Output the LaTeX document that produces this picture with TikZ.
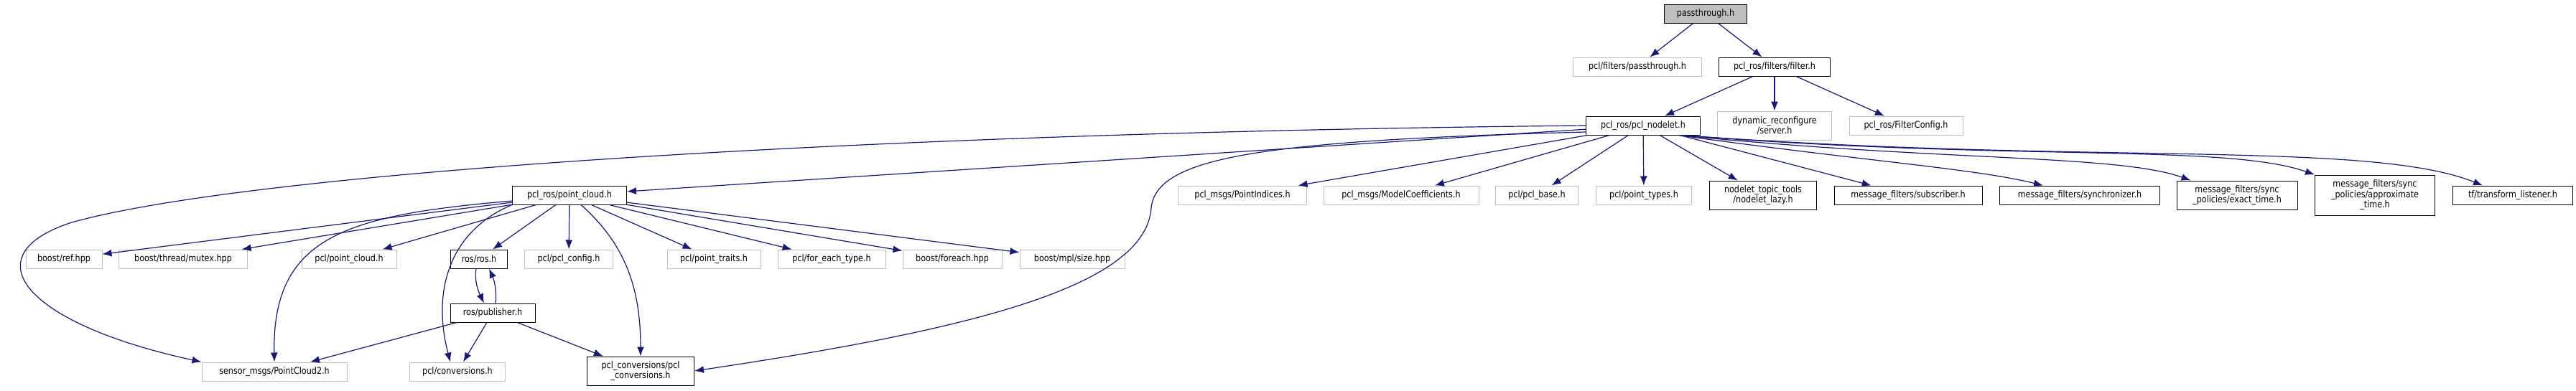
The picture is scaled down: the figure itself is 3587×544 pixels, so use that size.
\documentclass[tikz,border=0pt]{standalone}
\usepackage{fontspec}
\setmainfont{DejaVu Sans}[FakeStretch=0.86]
\usetikzlibrary{arrows.meta}
\definecolor{edgeblue}{HTML}{191970}
\definecolor{boxgray}{HTML}{BFBFBF}
\begin{document}
\begin{tikzpicture}[x=1pt,y=-1pt,font=\fontsize{13}{14.5}\selectfont,
	box/.style={draw,line width=1pt,minimum height=26pt,inner sep=2pt,align=center},
	ext/.style={box,draw=boxgray},
	inc/.style={box,draw=black},
	root/.style={box,draw=black,fill=boxgray},
	dep/.style={draw=edgeblue,line width=1.2pt,-{Latex[length=13pt,width=10pt]}}]
	\useasboundingbox (0,0) rectangle (3587,544);
	\node[root,minimum width=115] (pass) at (2375,19) {passthrough.h};
	\node[ext,minimum width=179] (fpass) at (2280,93) {pcl/filters/passthrough.h};
	\node[inc,minimum width=155] (filt) at (2471,93) {pcl\_ros/filters/filter.h};
	\node[inc,minimum width=159] (nod) at (2288,175) {pcl\_ros/pcl\_nodelet.h};
	\node[ext,minimum width=159,minimum height=40] (dyn) at (2471,175) {dynamic\_reconfigure\\/server.h};
	\node[ext,minimum width=158] (fcfg) at (2654,175) {pcl\_ros/FilterConfig.h};
	\node[inc,minimum width=159] (pc) at (793,272) {pcl\_ros/point\_cloud.h};
	\node[ext,minimum width=179] (pidx) at (1730,272) {pcl\_msgs/PointIndices.h};
	\node[ext,minimum width=216] (mcoef) at (1951,272) {pcl\_msgs/ModelCoefficients.h};
	\node[ext,minimum width=115] (base) at (2140,272) {pcl/pcl\_base.h};
	\node[ext,minimum width=133] (ptyp) at (2289,272) {pcl/point\_types.h};
	\node[inc,minimum width=149,minimum height=40] (lazy) at (2455,272) {nodelet\_topic\_tools\\/nodelet\_lazy.h};
	\node[inc,minimum width=206] (sub) at (2657,272) {message\_filters/subscriber.h};
	\node[inc,minimum width=223] (sync) at (2896,272) {message\_filters/synchronizer.h};
	\node[inc,minimum width=168,minimum height=40] (exact) at (3115,272) {message\_filters/sync\\\_policies/exact\_time.h};
	\node[inc,minimum width=167,minimum height=56] (approx) at (3307,272) {message\_filters/sync\\\_policies/approximate\\\_time.h};
	\node[inc,minimum width=167] (tf) at (3499,272) {tf/transform\_listener.h};
	\node[ext,minimum width=106] (ref) at (89,361) {boost/ref.hpp};
	\node[ext,minimum width=179] (mutex) at (255,361) {boost/thread/mutex.hpp};
	\node[ext,minimum width=132] (pcpc) at (486,361) {pcl/point\_cloud.h};
	\node[inc,minimum width=79] (ros) at (667,361) {ros/ros.h};
	\node[ext,minimum width=123] (cfg) at (792,361) {pcl/pcl\_config.h};
	\node[ext,minimum width=130] (trait) at (994,361) {pcl/point\_traits.h};
	\node[ext,minimum width=150] (each) at (1158,361) {pcl/for\_each\_type.h};
	\node[ext,minimum width=138] (fore) at (1326,361) {boost/foreach.hpp};
	\node[ext,minimum width=146] (size) at (1493,361) {boost/mpl/size.hpp};
	\node[inc,minimum width=118] (pub) at (686,436) {ros/publisher.h};
	\node[ext,minimum width=202] (pc2) at (382,518) {sensor\_msgs/PointCloud2.h};
	\node[ext,minimum width=133] (conv) at (637,518) {pcl/conversions.h};
	\node[inc,minimum width=149,minimum height=40] (pclc) at (892,517) {pcl\_conversions/pcl\\\_conversions.h};
	\foreach \a/\b in {pass/fpass,pass/filt,filt/nod,filt/dyn,filt/fcfg,
		nod/pc,nod/pidx,nod/mcoef,nod/base,nod/ptyp,nod/lazy,nod/sub,
		pc/ref,pc/mutex,pc/pcpc,pc/ros,pc/cfg,pc/trait,pc/each,pc/fore,pc/size,
		pub/pc2,pub/conv,pub/pclc}
	\draw[dep] (\a) -- (\b);
	\draw[dep] (nod.west) .. controls (1200,185) and (350,240) .. (100,310) .. controls (-40,355) and (30,450) .. (pc2.north west);
	\draw[dep] ([yshift=-9pt]nod.west) .. controls (1750,196) and (1610,220) .. (1603,290) .. controls (1595,400) and (1350,460) .. (pclc.east);
	\draw[dep] ([xshift=-25pt]nod.south east) .. controls (2900,230) and (3300,195) .. ([xshift=-42pt]tf.north);
	\draw[dep] ([xshift=-27pt]nod.south east) .. controls (2800,225) and (3100,200) .. (approx.north west);
	\draw[dep] ([xshift=-29pt]nod.south east) .. controls (2700,225) and (2950,215) .. ([xshift=20pt]exact.north west);
	\draw[dep] ([xshift=-31pt]nod.south east) .. controls (2600,225) and (2750,235) .. ([xshift=61pt]sync.north west);
	\draw[dep] ([yshift=-8pt]pc.west) .. controls (480,300) and (379,330) .. (pc2.north);
	\draw[dep] (pc.south west) .. controls (630,320) and (600,400) .. ([xshift=-10pt]conv.north);
	\draw[dep] ([xshift=16pt]pc.south) .. controls (870,340) and (892,400) .. (pclc.north);
	\draw[dep] ([xshift=-4pt]ros.south) .. controls (660,395) and (668,410) .. ([xshift=-12pt]pub.north);
	\draw[dep] ([xshift=4pt]pub.north) .. controls (692,405) and (688,390) .. ([xshift=14pt]ros.south);
\end{tikzpicture}
\end{document}
